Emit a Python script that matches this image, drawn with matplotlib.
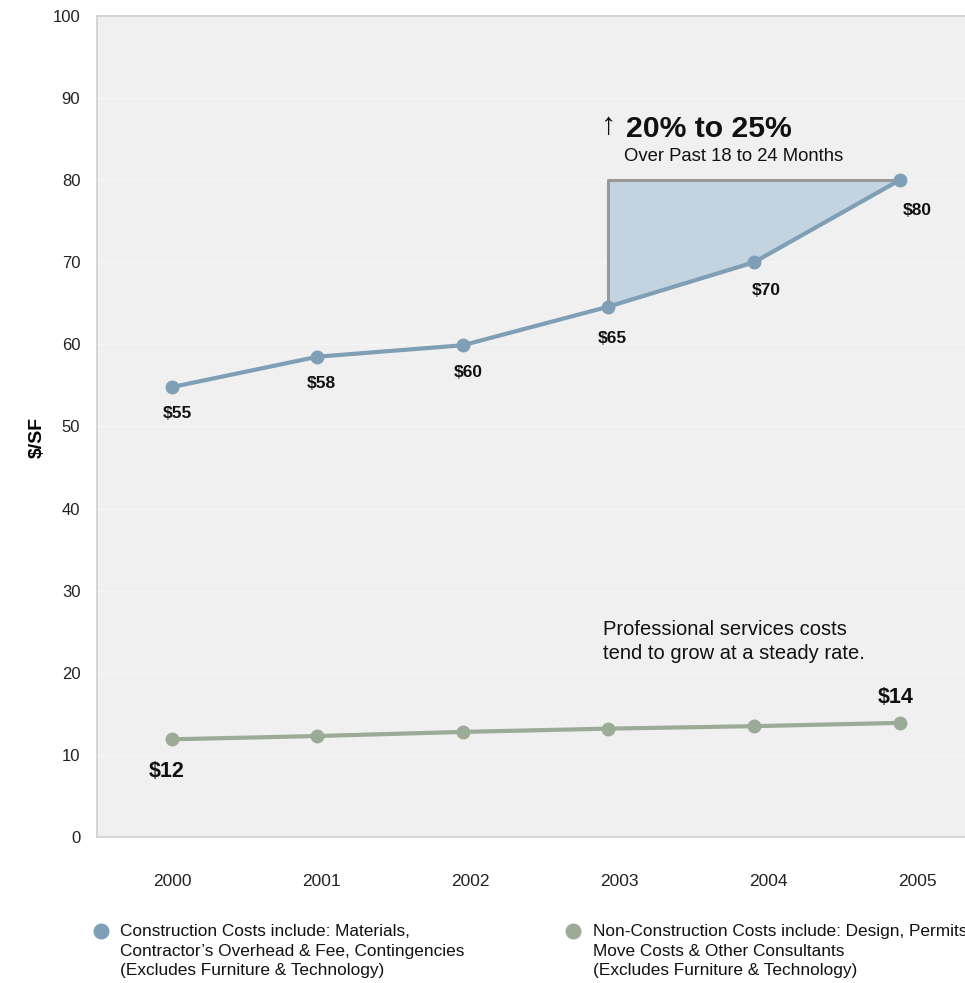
import numpy as np
import matplotlib.pyplot as plt
from matplotlib.lines import Line2D

plt.rcParams['font.family'] = ['Liberation Sans', 'DejaVu Sans']

# -----------------------------
# Data
# -----------------------------
years = ["2000", "2001", "2002", "2003", "2004", "2005"]
construction = [54.8, 58.5, 59.9, 64.6, 70.0, 80.0]
non_construction = [11.9, 12.3, 12.8, 13.2, 13.5, 13.9]
construction_labels = ["$55", "$58", "$60", "$65", "$70", "$80"]
non_construction_labels = {0: "$12", 5: "$14"}
y_ticks = [0, 10, 20, 30, 40, 50, 60, 70, 80, 90, 100]

blue = "#7f9fb6"
green = "#9bab98"
fill_blue = "#c3d3df"

# label offsets (points) for the construction values
label_dx = [4, 3, 4, 3, 9, 13]
label_dy = [-19, -19.5, -19.5, -23, -20.5, -21.5]

x = np.arange(len(years))
label_x = x * 1.025

# -----------------------------
# Figure
# -----------------------------
fig = plt.figure(figsize=(9.65, 9.83), dpi=100)
ax = fig.add_axes([97 / 965, (983 - 837) / 983, 1 - 97 / 965, (837 - 16) / 983])
ax.set_facecolor("#f0f0f0")

ax.set_xlim(-0.515, 5.45)
ax.set_ylim(0, 100)

for v in y_ticks[1:-1]:
    ax.axhline(v, color="#f6f6f6", lw=1, zorder=0)

for side in ["left", "top", "bottom"]:
    ax.spines[side].set_color("#d0d0d0")
    ax.spines[side].set_linewidth(1.2)
ax.spines["right"].set_visible(False)

ax.set_yticks(y_ticks)
ax.set_xticks(label_x)
ax.set_xticklabels(years)
ax.tick_params(axis="both", length=0, labelcolor="#222222")
ax.tick_params(axis="y", pad=12, labelsize=12)
ax.tick_params(axis="x", pad=27, labelsize=12.5)

ax.set_ylabel("$/SF", fontsize=14, fontweight="bold")
ax.yaxis.set_label_coords(-0.059, 0.487)

# -----------------------------
# Increase highlight (2003 -> 2005)
# -----------------------------
top = construction[-1]
ax.fill_between(x[3:], construction[3:], top, color=fill_blue, zorder=1)
ax.plot([x[3], x[3], x[5]], [construction[3], top, top], color="#999999", lw=2.2, zorder=2)

# -----------------------------
# Lines
# -----------------------------
ax.plot(x, construction, color=blue, lw=3, marker="o", markersize=9, zorder=3)
ax.plot(x, non_construction, color=green, lw=3, marker="o", markersize=9, zorder=3)

for i, lab in enumerate(construction_labels):
    ax.annotate(lab, (x[i], construction[i]), xytext=(label_dx[i], label_dy[i]),
                textcoords="offset points", ha="center", va="center",
                fontsize=12.5, fontweight="bold", color="#111111")

for i, lab in non_construction_labels.items():
    dx, dy = (-4, -23) if i == 0 else (-3, 18)
    ax.annotate(lab, (x[i], non_construction[i]), xytext=(dx, dy), textcoords="offset points",
                ha="center", va="center", fontsize=15.5, fontweight="bold", color="#111111")

# -----------------------------
# Annotations
# -----------------------------
ax.text(3.0, 86.6, "\u2191", fontsize=22, ha="center", va="center", color="#111111")
ax.text(3.12, 86.2, "20% to 25%", fontsize=21.7, fontweight="bold", ha="left", va="center",
        color="#111111")
ax.text(3.11, 82.9, "Over Past 18 to 24 Months", fontsize=13.3, ha="left", va="center",
        color="#111111")

ax.text(2.96, 26.4, "Professional services costs\ntend to grow at a steady rate.",
        fontsize=14.5, ha="left", va="top", color="#111111", linespacing=1.3)

# -----------------------------
# Legend (manual)
# -----------------------------
fig.add_artist(Line2D([101 / 965], [1 - 931 / 983], marker="o", markersize=10.5,
                      color=blue, transform=fig.transFigure))
fig.add_artist(Line2D([573 / 965], [1 - 931 / 983], marker="o", markersize=10.5,
                      color=green, transform=fig.transFigure))

fig.text(120 / 965, 1 - 924 / 983,
         "Construction Costs include: Materials,\nContractor\u2019s Overhead & Fee, Contingencies\n(Excludes Furniture & Technology)",
         fontsize=12.4, ha="left", va="top", color="#111111", linespacing=1.38)
fig.text(593 / 965, 1 - 924 / 983,
         "Non-Construction Costs include: Design, Permits,\nMove Costs & Other Consultants\n(Excludes Furniture & Technology)",
         fontsize=12.4, ha="left", va="top", color="#111111", linespacing=1.38)

fig.savefig("out.png", dpi=100)
